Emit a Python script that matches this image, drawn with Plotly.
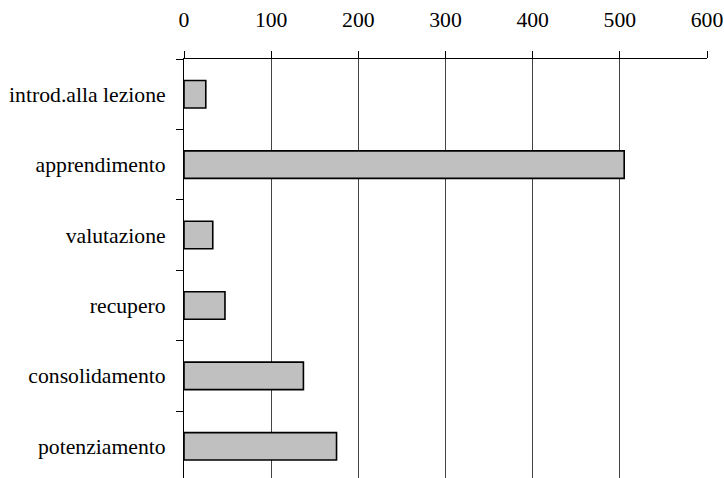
import plotly.graph_objects as go

categories = ["introd.alla lezione", "apprendimento", "valutazione", "recupero",
              "consolidamento", "potenziamento"]
values = [25, 505, 33, 47, 137, 175]
x_ticks = [0, 100, 200, 300, 400, 500, 600]

FONT = "Liberation Serif, Times New Roman, serif"
FONT_SIZE = 21.7

fig = go.Figure(
    go.Bar(
        y=categories,
        x=values,
        orientation="h",
        width=0.39,
        marker=dict(color="#c0c0c0", line=dict(color="black", width=1.6)),
    )
)

fig.update_layout(
    width=724,
    height=478,
    margin=dict(l=184, r=17, t=59, b=0),
    paper_bgcolor="white",
    plot_bgcolor="white",
    showlegend=False,
    font=dict(family=FONT, size=FONT_SIZE, color="black"),
    bargap=0.6,
)

fig.update_xaxes(
    side="top",
    range=[0, 600],
    tickvals=x_ticks,
    ticktext=[str(v) for v in x_ticks],
    showline=True,
    linecolor="black",
    linewidth=1,
    ticks="outside",
    ticklen=7,
    tickcolor="black",
    tickwidth=1,
    showgrid=True,
    gridcolor="#444444",
    gridwidth=1,
    zeroline=False,
    ticklabelstandoff=15,
    tickfont=dict(family=FONT, size=FONT_SIZE, color="black"),
)

fig.update_yaxes(
    type="category",
    categoryorder="array",
    categoryarray=categories,
    range=[5.45, -0.5],
    showline=True,
    linecolor="black",
    linewidth=1,
    ticks="outside",
    tickson="boundaries",
    ticklen=7,
    tickcolor="black",
    showgrid=False,
    zeroline=False,
    ticklabelstandoff=13,
    tickfont=dict(family=FONT, size=FONT_SIZE, color="black"),
)

fig.write_html(
    "out.html",
    config={"displayModeBar": False},
    post_script="document.body.style.margin='0';document.body.style.padding='0';",
)
